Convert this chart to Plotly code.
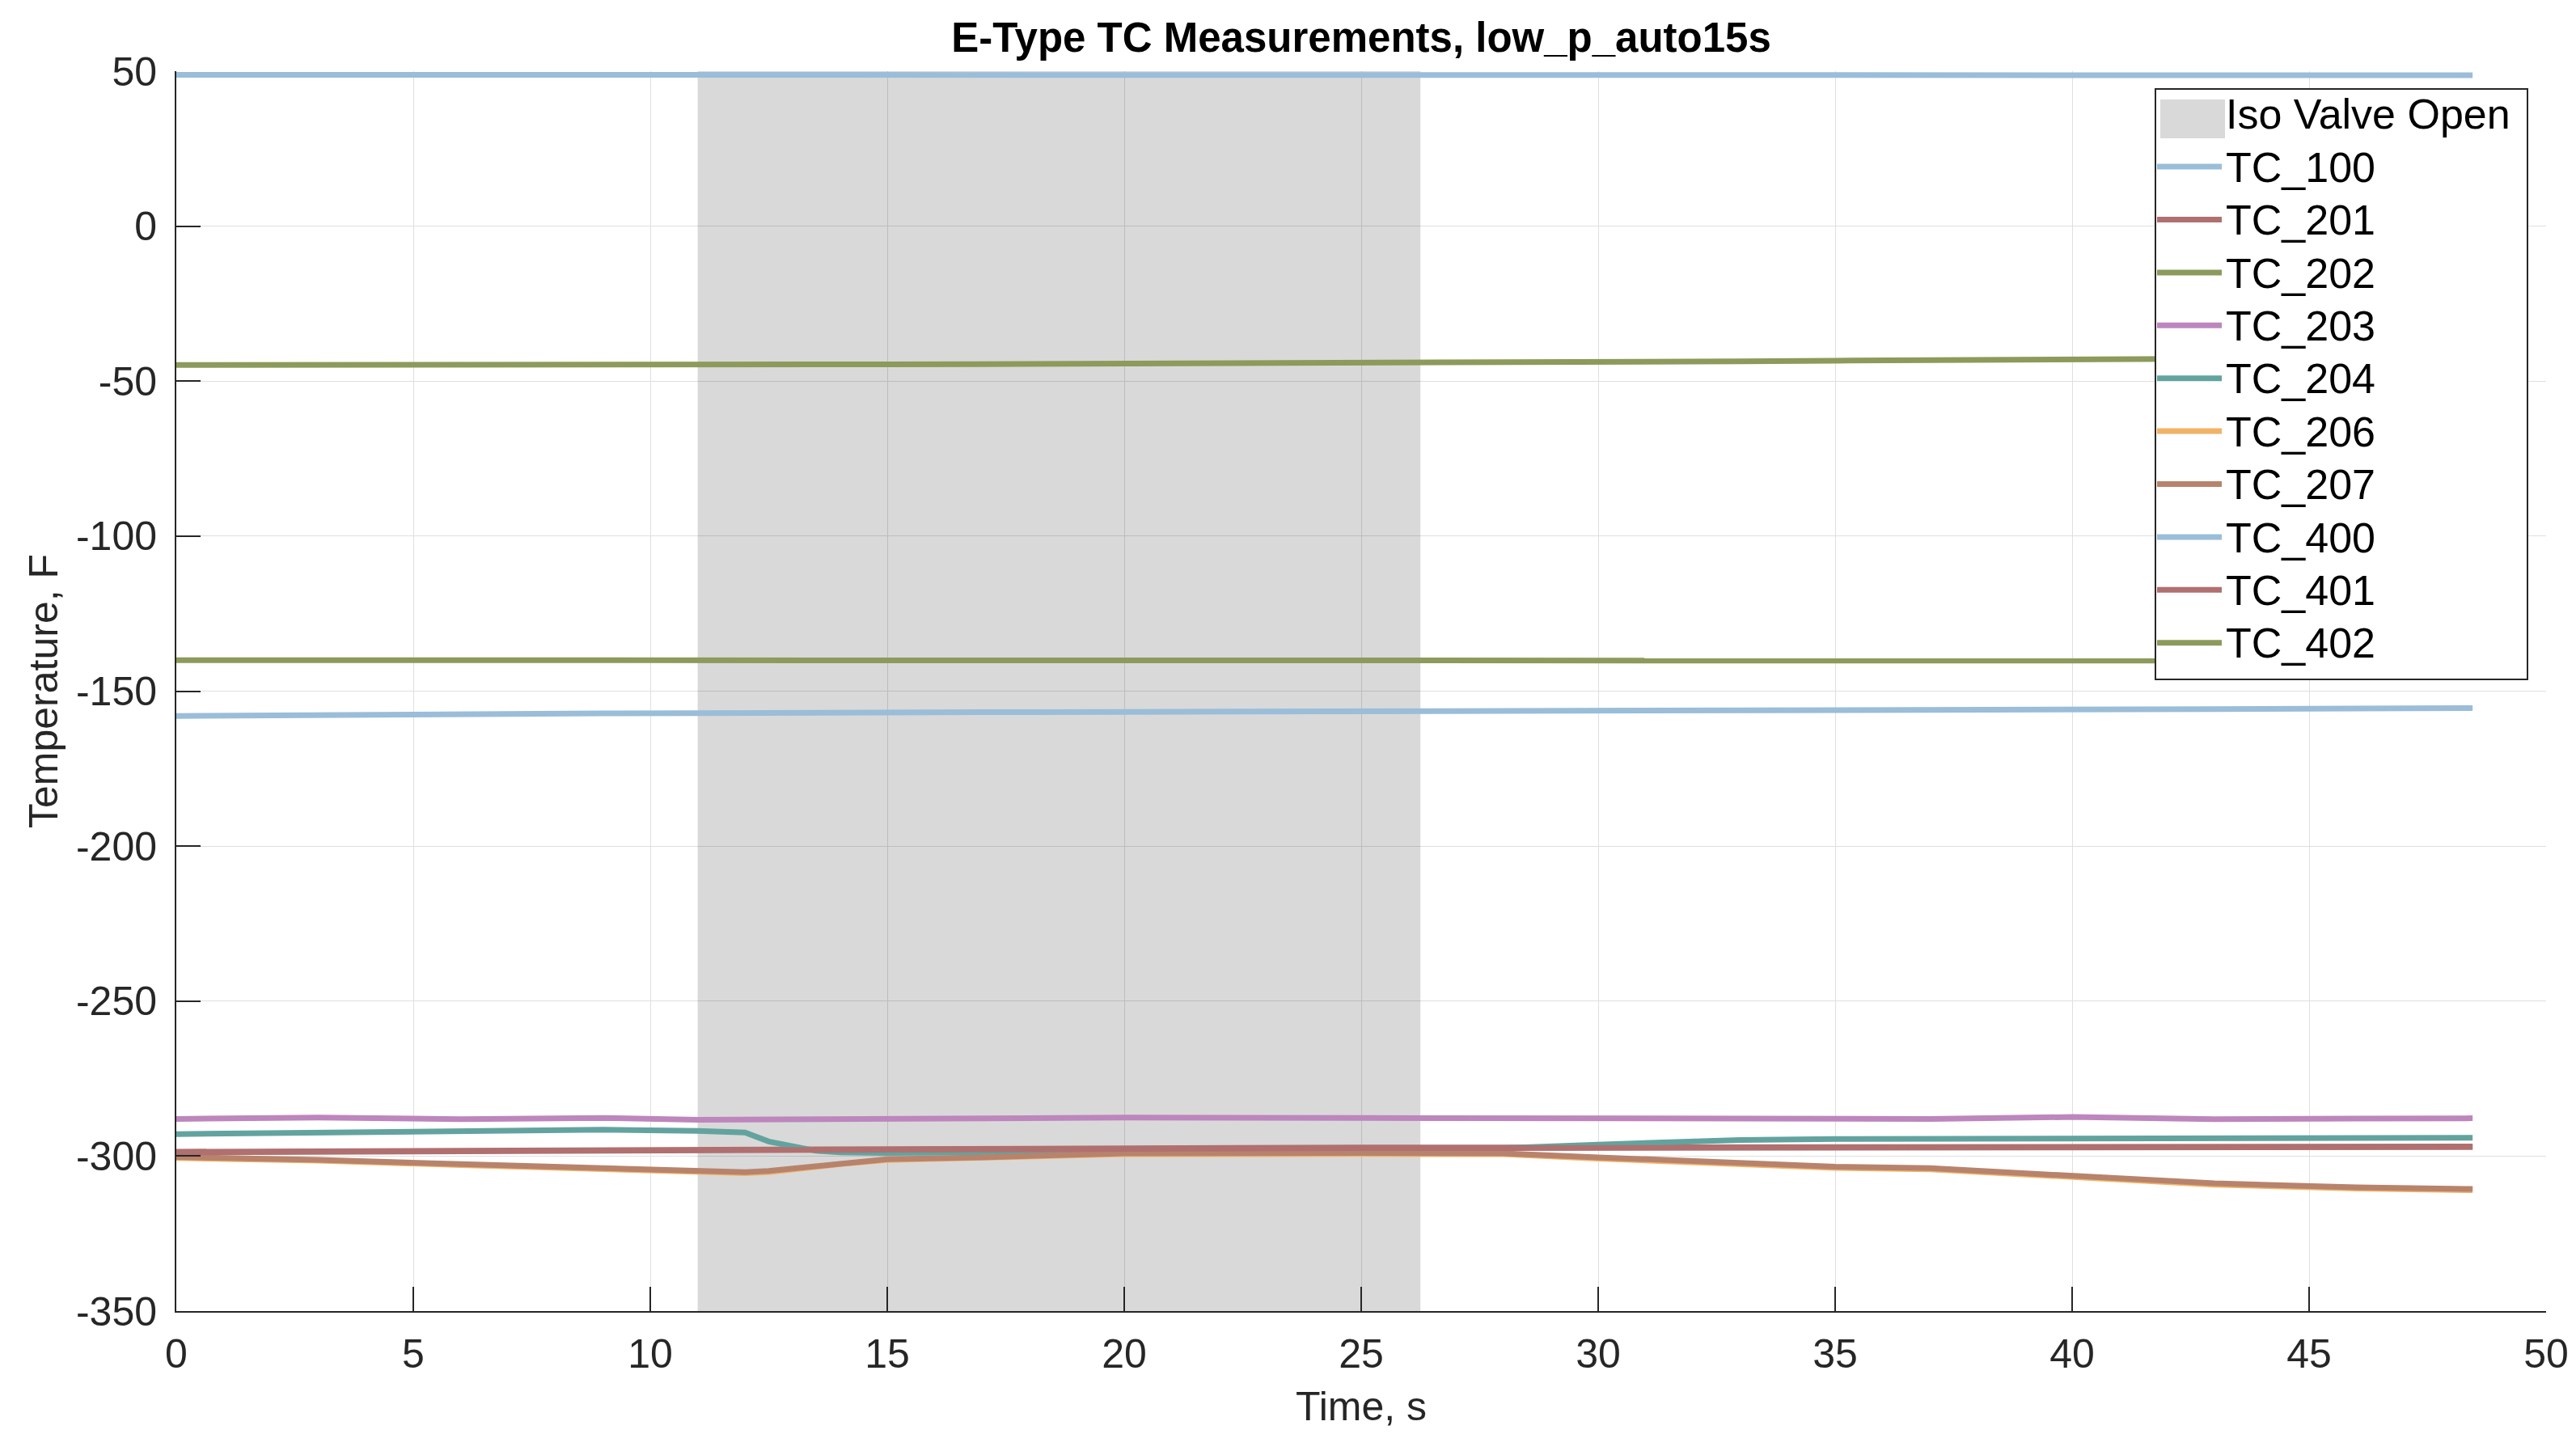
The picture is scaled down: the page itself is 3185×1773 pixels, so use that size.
import plotly.graph_objects as go

# ---------------- data ----------------
time_s = [0, 3, 6, 9, 11, 12, 12.5, 13, 13.5, 14, 15, 17, 20, 25, 28, 30, 33, 35, 37, 40, 43, 46, 48.45]

tc_100 = [48.8, 48.9, 48.8, 48.8, 48.8, 48.8, 48.8, 48.8, 48.8, 48.8, 48.8, 48.8, 48.8, 48.8, 48.8, 48.7, 48.7, 48.7, 48.7, 48.7, 48.7, 48.7, 48.7]
tc_201 = [-298.6, -298.4, -298.2, -298.1, -298.0, -297.9, -297.9, -297.9, -297.9, -297.8, -297.8, -297.7, -297.6, -297.2, -297.2, -297.2, -297.3, -297.3, -297.2, -297.0, -296.9, -296.9, -296.9]
tc_202 = [-44.8, -44.8, -45.0, -45.0, -44.8, -44.7, -44.7, -44.7, -44.6, -44.6, -44.6, -44.5, -44.4, -44.2, -44.0, -43.9, -43.6, -43.4, -43.2, -42.9, -42.6, -42.4, -42.3]
tc_203 = [-288.0, -287.6, -288.1, -287.7, -288.3, -288.2, -288.2, -288.4, -288.4, -288.2, -288.0, -287.8, -287.6, -287.7, -287.8, -287.9, -288.0, -287.9, -288.0, -287.4, -288.1, -287.9, -287.8]
tc_204 = [-292.9, -292.5, -291.9, -291.5, -291.9, -292.4, -295.3, -296.8, -298.3, -298.8, -299.0, -298.8, -297.8, -297.6, -297.4, -296.3, -294.8, -294.5, -294.5, -294.5, -294.5, -294.3, -294.1]
tc_206 = [-300.6, -301.5, -302.9, -304.3, -305.3, -305.5, -305.2, -304.3, -303.6, -302.6, -301.3, -300.7, -299.4, -299.3, -299.4, -300.8, -302.8, -303.8, -304.3, -306.6, -309.2, -310.5, -311.0]
tc_207 = [-300.3, -301.2, -302.6, -304.0, -305.0, -305.2, -304.8, -304.0, -303.3, -302.3, -301.0, -300.4, -299.1, -299.0, -299.1, -300.4, -302.4, -303.4, -303.9, -306.2, -308.8, -310.1, -310.6]
tc_400 = [-158.0, -157.6, -157.3, -157.2, -157.1, -157.0, -157.0, -157.0, -156.9, -156.9, -156.9, -156.8, -156.7, -156.6, -156.5, -156.4, -156.3, -156.2, -156.1, -155.9, -155.8, -155.6, -155.5]
tc_401 = [-298.8, -298.6, -298.4, -298.3, -298.2, -298.1, -298.1, -298.1, -298.1, -298.0, -298.0, -297.9, -297.8, -297.4, -297.4, -297.4, -297.5, -297.5, -297.4, -297.2, -297.1, -297.1, -297.1]
tc_402 = [-140.0, -140.0, -140.1, -140.0, -140.1, -140.1, -140.1, -140.1, -140.1, -140.1, -140.1, -140.1, -140.1, -140.1, -140.1, -140.1, -140.1, -140.1, -140.2, -140.2, -140.3, -140.2, -140.2]

series_names = ["TC_100", "TC_201", "TC_202", "TC_203", "TC_204", "TC_206", "TC_207", "TC_400", "TC_401", "TC_402"]
series_values = [tc_100, tc_201, tc_202, tc_203, tc_204, tc_206, tc_207, tc_400, tc_401, tc_402]

valve_label = "Iso Valve Open"
valve_open_start = 11.0
valve_open_end = 26.25

x_ticks = [0, 5, 10, 15, 20, 25, 30, 35, 40, 45, 50]
x_tick_labels = ["0", "5", "10", "15", "20", "25", "30", "35", "40", "45", "50"]
y_ticks = [-350, -300, -250, -200, -150, -100, -50, 0, 50]
y_tick_labels = ["-350", "-300", "-250", "-200", "-150", "-100", "-50", "0", "50"]
x_range = [0, 50]
y_range = [-350, 50]

# ---------------- styling / layout constants ----------------
colors = {
    "TC_100": "#9abdd9", "TC_201": "#b07070", "TC_202": "#8c9a5b",
    "TC_203": "#bd86bd", "TC_204": "#63a39f", "TC_206": "#f2b264",
    "TC_207": "#b8836c", "TC_400": "#9abdd9", "TC_401": "#b07070",
    "TC_402": "#8c9a5b",
}
FONT = "Arial, Liberation Sans, Helvetica, sans-serif"
AX = "#262626"
W, H = 3185, 1773
ML, MR, MT, MB = 210, 45, 80, 160
PW, PH = W - ML - MR, H - MT - MB
LEGEND_TEXT_PX = 52      # glyph size of legend entries
LEGEND_ROW_FONT = 48     # font size that sets legend row spacing


def px_to_paper_x(px):
    return (px - ML) / PW


def px_to_paper_y(py):
    return (H - MB - py) / PH


def legend_text(s):
    return f'<span style="font-size:{LEGEND_TEXT_PX}px">{s}</span>'


LEGEND_BOX = (2657, 102, 3117, 832)      # left, top, right, bottom (pixels)
VALVE_SWATCH = (2663, 115, 2743, 163)    # legend patch for the shaded area

fig = go.Figure()

# shaded region (valve open), drawn between grid and traces
fig.add_shape(
    type="rect", xref="x", yref="y",
    x0=valve_open_start, x1=valve_open_end, y0=y_range[0], y1=y_range[1],
    fillcolor="rgba(0,0,0,0.15)", line=dict(width=0),
    layer="between",
)

# legend frame (white box above the traces) and the patch swatch
fig.add_shape(
    type="rect", xref="paper", yref="paper", layer="above",
    x0=px_to_paper_x(LEGEND_BOX[0]), x1=px_to_paper_x(LEGEND_BOX[2]),
    y0=px_to_paper_y(LEGEND_BOX[3]), y1=px_to_paper_y(LEGEND_BOX[1]),
    fillcolor="white", line=dict(color=AX, width=2),
)
fig.add_shape(
    type="rect", xref="paper", yref="paper", layer="above",
    x0=px_to_paper_x(VALVE_SWATCH[0]), x1=px_to_paper_x(VALVE_SWATCH[2]),
    y0=px_to_paper_y(VALVE_SWATCH[3]), y1=px_to_paper_y(VALVE_SWATCH[1]),
    fillcolor="#d9d9d9", line=dict(width=0),
)

# legend entry for the shaded region (icon supplied by the swatch above)
fig.add_trace(go.Scatter(
    x=[None], y=[None], mode="lines", name=legend_text(valve_label),
    line=dict(color="rgba(0,0,0,0)", width=0), hoverinfo="skip",
))

for name, vals in zip(series_names, series_values):
    fig.add_trace(go.Scatter(
        x=time_s, y=vals, mode="lines", name=legend_text(name),
        line=dict(color=colors[name], width=7),
    ))

fig.update_layout(
    width=W, height=H,
    paper_bgcolor="white", plot_bgcolor="white",
    margin=dict(l=ML, r=MR, t=MT, b=MB),
    font=dict(family=FONT, size=50, color=AX),
    title=dict(
        text="<b>E-Type TC Measurements, low_p_auto15s</b>",
        x=0.5, xref="paper", xanchor="center",
        y=1 - 38 / H, yref="container", yanchor="middle",
        font=dict(family=FONT, size=51, color="#000000"),
    ),
    showlegend=True,
    legend=dict(
        x=px_to_paper_x(2654), y=px_to_paper_y(95), xanchor="left", yanchor="top",
        bgcolor="rgba(0,0,0,0)", borderwidth=0,
        font=dict(family=FONT, size=LEGEND_ROW_FONT, color="#000000"),
        traceorder="normal", itemwidth=80,
    ),
)

fig.update_xaxes(
    range=x_range, tickvals=x_ticks, ticktext=x_tick_labels,
    showgrid=True, gridcolor="#dfdfdf", gridwidth=1,
    zeroline=False, showline=True, linecolor=AX, linewidth=2, mirror=False,
    ticks="inside", ticklen=30, tickwidth=2, tickcolor=AX,
    ticklabelstandoff=8,
    tickfont=dict(family=FONT, size=50, color=AX),
    title=dict(text="Time, s", font=dict(family=FONT, size=50, color=AX), standoff=20),
)
fig.update_yaxes(
    range=y_range, tickvals=y_ticks, ticktext=y_tick_labels,
    showgrid=True, gridcolor="#dfdfdf", gridwidth=1,
    zeroline=False, showline=True, linecolor=AX, linewidth=2, mirror=False,
    ticks="inside", ticklen=30, tickwidth=2, tickcolor=AX,
    ticklabelstandoff=12,
    tickfont=dict(family=FONT, size=50, color=AX),
    title=dict(text="Temperature, F", font=dict(family=FONT, size=50, color=AX), standoff=6),
)

fig.write_html("out.html")
